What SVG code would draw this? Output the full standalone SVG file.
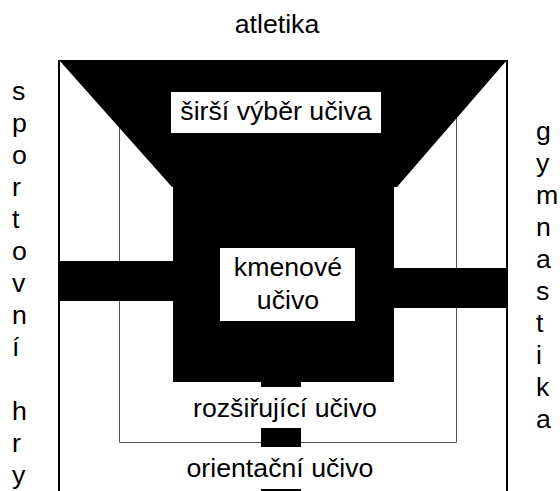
<svg xmlns="http://www.w3.org/2000/svg" width="560" height="491" viewBox="0 0 560 491">
<style>
text{font-family:"Liberation Sans",Arial,sans-serif;font-size:26.7px;fill:#000}
.c{text-anchor:middle}
.blk{fill:#000}
.wbox{fill:#fff}
.thin{fill:none;stroke:#555;stroke-width:1}
.edge{fill:none;stroke:#000;stroke-width:2}
</style>
<rect width="560" height="491" fill="#fff"/>
<g id="frame">
<line class="thin" x1="59" y1="60.5" x2="507" y2="60.5"/>
<line class="edge" x1="59" y1="60" x2="59" y2="491"/>
<line class="edge" x1="507" y1="60" x2="507" y2="491"/>
</g>
<g id="rozsirujici-ucivo">
<path class="thin" d="M119.5,70 V442.5 H456.5 V70"/>
<text class="c" x="285" y="417">rozšiřující učivo</text>
</g>
<g id="sirsi-vyber-uciva">
<polygon class="blk" points="59,60 507,60 397,187 172,187"/>
<rect class="wbox" x="171" y="92" width="210" height="41"/>
<text class="c" x="276" y="120">širší výběr učiva</text>
</g>
<g id="kmenove-ucivo">
<rect class="blk" x="173" y="186" width="221" height="196"/>
<rect class="wbox" x="220" y="248" width="135" height="73"/>
<text class="c" x="288" y="276">kmenové</text>
<text class="c" x="288" y="309">učivo</text>
</g>
<g id="connectors">
<rect class="blk" x="59" y="261" width="114" height="40"/>
<rect class="blk" x="394" y="268" width="113" height="40"/>
<rect class="blk" x="261" y="381" width="40" height="6"/>
<rect class="blk" x="261" y="428" width="40" height="19"/>
<rect class="blk" x="261" y="489" width="40" height="2"/>
</g>
<g id="orientacni-ucivo">
<text class="c" x="280" y="477">orientační učivo</text>
</g>
<g id="atletika">
<text class="c" x="277" y="33">atletika</text>
</g>
<g id="sportovni-hry">
<text x="12" y="100"><tspan x="12">s</tspan><tspan x="12" dy="32">p</tspan><tspan x="12" dy="32">o</tspan><tspan x="12" dy="32">r</tspan><tspan x="12" dy="32">t</tspan><tspan x="12" dy="32">o</tspan><tspan x="12" dy="32">v</tspan><tspan x="12" dy="32">n</tspan><tspan x="12" dy="32">í</tspan><tspan x="12" dy="64">h</tspan><tspan x="12" dy="32">r</tspan><tspan x="12" dy="32">y</tspan></text>
</g>
<g id="gymnastika">
<text x="536" y="140"><tspan x="536">g</tspan><tspan x="536" dy="32">y</tspan><tspan x="536" dy="32">m</tspan><tspan x="536" dy="32">n</tspan><tspan x="536" dy="32">a</tspan><tspan x="536" dy="32">s</tspan><tspan x="536" dy="32">t</tspan><tspan x="536" dy="32">i</tspan><tspan x="536" dy="32">k</tspan><tspan x="536" dy="32">a</tspan></text>
</g>
</svg>
